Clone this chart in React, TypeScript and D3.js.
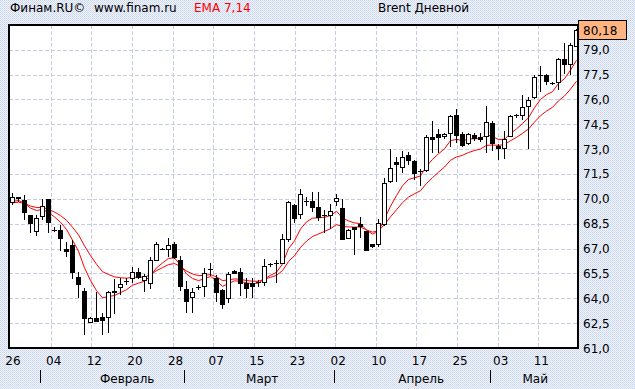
import React, { useEffect, useRef } from "react";
import * as d3 from "d3";

// daily Brent candles
const opens: number[] = [
  69.82, 70.1, 69.92, 69.01, 68.05, 68.97, 69.97, 68.12, 68.1, 67.0,
  67.2, 65.28, 64.43, 62.55, 62.79, 62.87, 62.87, 64.43, 64.71, 65.04,
  65.2, 65.6, 65.08, 64.94, 66.34, 67.0, 67.0, 67.3, 66.3, 64.55,
  64.09, 64.7, 64.75, 65.74, 65.2, 64.47, 63.99, 65.64, 65.6, 64.9,
  64.9, 65.0, 65.0, 66.04, 66.1, 66.1, 67.6, 69.6, 69.1, 69.9,
  69.86, 69.52, 69.0, 69.05, 69.9, 69.47, 67.65, 68.29, 68.49, 68.05,
  67.25, 67.25, 68.5, 71.06, 72.22, 71.92, 72.67, 72.27, 71.7, 71.76,
  73.71, 73.89, 73.79, 73.99, 75.04, 73.93, 73.39, 73.83, 73.73, 73.79,
  74.59, 73.17, 73.07, 73.79, 75.04, 75.04, 75.6, 76.16, 77.49, 77.49,
  77.0, 77.08, 78.41, 78.13, 79.21,
];
const highs: number[] = [
  70.38, 70.12, 70.26, 69.05, 69.01, 69.97, 69.97, 68.3, 68.45, 67.4,
  67.5, 65.56, 64.64, 62.89, 64.35, 63.09, 64.43, 65.16, 65.2, 65.2,
  65.9, 65.8, 65.48, 66.5, 67.4, 67.05, 67.65, 67.4, 66.56, 65.04,
  64.63, 64.8, 65.84, 66.1, 65.4, 64.55, 65.56, 65.7, 65.84, 65.2,
  65.2, 65.1, 66.4, 66.12, 66.3, 67.85, 69.86, 69.7, 70.58, 70.1,
  70.4, 70.4, 69.3, 69.7, 70.3, 70.0, 68.2, 68.29, 68.89, 68.05,
  67.3, 68.77, 71.26, 73.03, 72.5, 72.87, 72.83, 72.33, 71.82, 73.87,
  74.7, 74.19, 74.0, 75.08, 75.44, 74.03, 73.99, 73.99, 73.99, 75.6,
  74.67, 73.33, 74.07, 75.08, 75.14, 76.28, 76.14, 77.45, 78.0, 77.55,
  77.08, 78.49, 79.41, 79.41, 80.26,
];
const lows: number[] = [
  69.67, 69.9, 68.77, 68.01, 67.81, 68.77, 67.97, 68.05, 66.9, 66.56,
  65.2, 64.09, 61.82, 62.55, 62.63, 61.82, 61.98, 63.13, 64.23, 64.87,
  65.0, 65.2, 64.43, 64.63, 66.3, 67.0, 66.56, 66.44, 64.5, 63.19,
  63.19, 64.55, 64.15, 65.4, 63.83, 63.43, 63.75, 65.5, 64.19, 64.09,
  64.09, 64.75, 64.83, 65.96, 65.0, 66.1, 67.45, 68.6, 68.85, 69.65,
  69.25, 68.71, 68.0, 68.25, 69.6, 67.55, 67.65, 66.7, 67.7, 66.94,
  67.1, 67.15, 68.45, 71.02, 71.06, 71.62, 72.12, 71.22, 70.86, 71.66,
  72.83, 72.83, 73.7, 73.19, 73.43, 73.19, 73.33, 73.53, 73.47, 72.83,
  72.93, 72.39, 72.47, 73.79, 74.94, 74.8, 73.07, 76.08, 76.48, 76.94,
  76.92, 76.6, 77.6, 77.55, 79.21,
];
const closes: number[] = [
  70.12, 70.08, 69.21, 68.57, 68.87, 69.57, 68.61, 68.1, 67.65, 66.84,
  65.56, 64.84, 62.83, 62.79, 62.63, 62.71, 64.35, 64.35, 64.87, 65.04,
  65.6, 65.28, 65.36, 66.34, 67.3, 67.0, 67.24, 66.5, 64.75, 63.85,
  64.35, 64.7, 65.5, 65.74, 64.35, 63.63, 65.44, 65.52, 64.94, 64.63,
  64.75, 65.0, 65.96, 66.04, 66.1, 67.57, 69.78, 68.87, 70.32, 69.9,
  69.52, 68.91, 69.0, 69.27, 70.06, 67.6, 68.15, 68.19, 68.37, 66.94,
  67.15, 68.57, 70.98, 71.88, 72.12, 72.55, 72.33, 71.58, 71.7, 73.75,
  73.59, 73.73, 73.93, 74.99, 73.83, 73.27, 73.89, 73.69, 73.63, 74.63,
  73.39, 73.07, 73.63, 74.99, 75.04, 75.52, 75.94, 77.33, 77.49, 77.14,
  77.0, 78.45, 78.13, 79.29, 80.18,
];

const emaPeriods: number[] = [7, 14];
const emaSeeds: number[] = [69.75, 69.7];

const dayLabels: string[] = ["26", "04", "12", "20", "28", "07", "15", "23", "02", "10", "17", "25", "03", "11"];
const monthNames: string[] = ["Февраль", "Март", "Апрель", "Май"];
const monthStarts: number[] = [5, 29, 54, 80];
const monthLabelAt: number[] = [19.2, 41.7, 68.2, 87.2];

const priceTicks: number[] = [61, 62.5, 64, 65.5, 67, 68.5, 70, 71.5, 73, 74.5, 76, 77.5, 79];

const App = () => {
  const ref = useRef<any>(null);
  var width = 635;
  var height = 389;

  useEffect(() => {
    var svg = d3.select(ref.current);
    svg.selectAll("*").remove();

    var left = 9;
    var right = 578;
    var top = 25;
    var bottom = 348;

    var x = d3
      .scaleBand<number>()
      .domain(d3.range(closes.length))
      .range([left, left + 6 * closes.length]);
    var cx = (i: number) => Math.round(x(i)! + x.bandwidth() / 2) + 0.5;
    var xi = d3.scaleLinear().domain([0, 1]).range([left + 3, left + 9]);
    var y = d3.scaleLinear().domain([61, 80.52]).range([bottom, top - 0.5]);
    var grid = d3.scaleLinear().domain([0, 14]).range([left + 1, right + 1]);

    // dithered backdrop
    var defs = svg.append("defs");
    var pat = defs
      .append("pattern")
      .attr("id", "dither")
      .attr("width", 2)
      .attr("height", 2)
      .attr("patternUnits", "userSpaceOnUse");
    pat.append("rect").attr("width", 2).attr("height", 2).attr("fill", "#eef2fa");
    pat.append("rect").attr("width", 1).attr("height", 1).attr("fill", "#ccd7ee");
    pat.append("rect").attr("x", 1).attr("y", 1).attr("width", 1).attr("height", 1).attr("fill", "#d6def1");

    svg.append("rect").attr("width", width).attr("height", height).attr("fill", "url(#dither)");
    svg
      .append("rect")
      .attr("x", left)
      .attr("y", top)
      .attr("width", right - left)
      .attr("height", bottom - top)
      .attr("fill", "#fff");

    // grid
    svg
      .selectAll(".hgrid")
      .data(priceTicks.slice(1))
      .enter()
      .append("line")
      .attr("x1", left)
      .attr("x2", right)
      .attr("y1", (d) => Math.round(y(d)) + 0.5)
      .attr("y2", (d) => Math.round(y(d)) + 0.5)
      .style("stroke", "#c6cce2")
      .style("stroke-dasharray", "4,2");
    svg
      .selectAll(".vgrid")
      .data(d3.range(1, 14))
      .enter()
      .append("line")
      .attr("x1", (d) => Math.round(grid(d)) + 0.5)
      .attr("x2", (d) => Math.round(grid(d)) + 0.5)
      .attr("y1", top)
      .attr("y2", bottom)
      .style("stroke", "#c6cce2")
      .style("stroke-dasharray", "4,2");

    // EMA lines
    emaPeriods.forEach((p, k) => {
      var a = 2 / (p + 1);
      var prev = emaSeeds[k];
      var vals = closes.map((c) => (prev = prev + a * (c - prev)));
      var line = d3
        .line<number>()
        .x((d, i) => cx(i))
        .y((d) => y(d));
      svg
        .append("path")
        .attr("d", line(vals))
        .attr("fill", "none")
        .style("stroke", "#ff0000")
        .style("stroke-width", 1);
    });

    // candles
    var g = svg.append("g");
    closes.forEach((c, i) => {
      var o = opens[i];
      var px = cx(i);
      g.append("line")
        .attr("x1", px)
        .attr("x2", px)
        .attr("y1", Math.round(y(highs[i])))
        .attr("y2", Math.round(y(lows[i])) + 1)
        .style("stroke", "#000");
      var yt = Math.round(y(Math.max(o, c)));
      var yb = Math.round(y(Math.min(o, c)));
      if (yb - yt < 1) {
        g.append("line")
          .attr("x1", px - 2.5)
          .attr("x2", px + 2.5)
          .attr("y1", yt + 0.5)
          .attr("y2", yt + 0.5)
          .style("stroke", "#000");
      } else {
        g.append("rect")
          .attr("x", px - 2)
          .attr("y", yt + 0.5)
          .attr("width", 4)
          .attr("height", yb - yt)
          .attr("fill", c >= o ? "#fff" : "#000")
          .style("stroke", "#000");
      }
    });

    // frame
    svg
      .append("rect")
      .attr("x", left)
      .attr("y", top)
      .attr("width", right - left)
      .attr("height", bottom - top)
      .attr("fill", "none")
      .style("stroke", "#000")
      .style("stroke-width", 2);

    var font = "'DejaVu Sans', Verdana, sans-serif";

    // price axis
    svg
      .selectAll(".ptick")
      .data(priceTicks)
      .enter()
      .append("text")
      .attr("x", right + 5)
      .attr("y", (d) => y(d) + 4.5)
      .attr("font-family", font)
      .attr("font-size", 12)
      .attr("fill", "#000")
      .text((d) => d3.format(".1f")(d).replace(".", ","));

    // last price box
    var last = closes[closes.length - 1];
    svg
      .append("rect")
      .attr("x", right + 0.5)
      .attr("y", Math.round(y(last)) - 9.5)
      .attr("width", 48)
      .attr("height", 19)
      .attr("fill", "#ffb482")
      .style("stroke", "#000");
    svg
      .append("text")
      .attr("x", right + 5)
      .attr("y", y(last) + 4.5)
      .attr("font-family", font)
      .attr("font-size", 12)
      .attr("fill", "#000")
      .text(d3.format(".2f")(last).replace(".", ","));

    // day labels
    svg
      .selectAll(".day")
      .data(dayLabels)
      .enter()
      .append("text")
      .attr("x", (d, i) => grid(i) + 3)
      .attr("y", 365)
      .attr("text-anchor", "middle")
      .attr("font-family", font)
      .attr("font-size", 12)
      .attr("fill", "#000")
      .text((d) => d);

    // months
    svg
      .selectAll(".msep")
      .data(monthStarts)
      .enter()
      .append("line")
      .attr("x1", (d) => Math.round(x(d)! + 1) + 0.5)
      .attr("x2", (d) => Math.round(x(d)! + 1) + 0.5)
      .attr("y1", 370)
      .attr("y2", 383)
      .style("stroke", "#000");
    svg
      .selectAll(".mname")
      .data(monthNames)
      .enter()
      .append("text")
      .attr("x", (d, i) => xi(monthLabelAt[i]))
      .attr("y", 383)
      .attr("text-anchor", "middle")
      .attr("font-family", font)
      .attr("font-size", 12)
      .attr("fill", "#000")
      .text((d) => d);

    // header
    var head = svg
      .append("text")
      .attr("y", 12)
      .attr("font-family", font)
      .attr("font-size", 12)
      .attr("fill", "#000");
    head.append("tspan").attr("x", 10).text("Финам.RU©");
    head.append("tspan").attr("x", 94).text("www.finam.ru");
    head.append("tspan").attr("x", 194).attr("fill", "#ff0000").text("EMA 7,14");
    head.append("tspan").attr("x", 378).text("Brent Дневной");
  }, []);

  return (
    <svg
      ref={ref}
      width={width}
      height={height}
      style={{ position: "absolute", left: 0, top: 0, display: "block" }}
    ></svg>
  );
};

export default App;
